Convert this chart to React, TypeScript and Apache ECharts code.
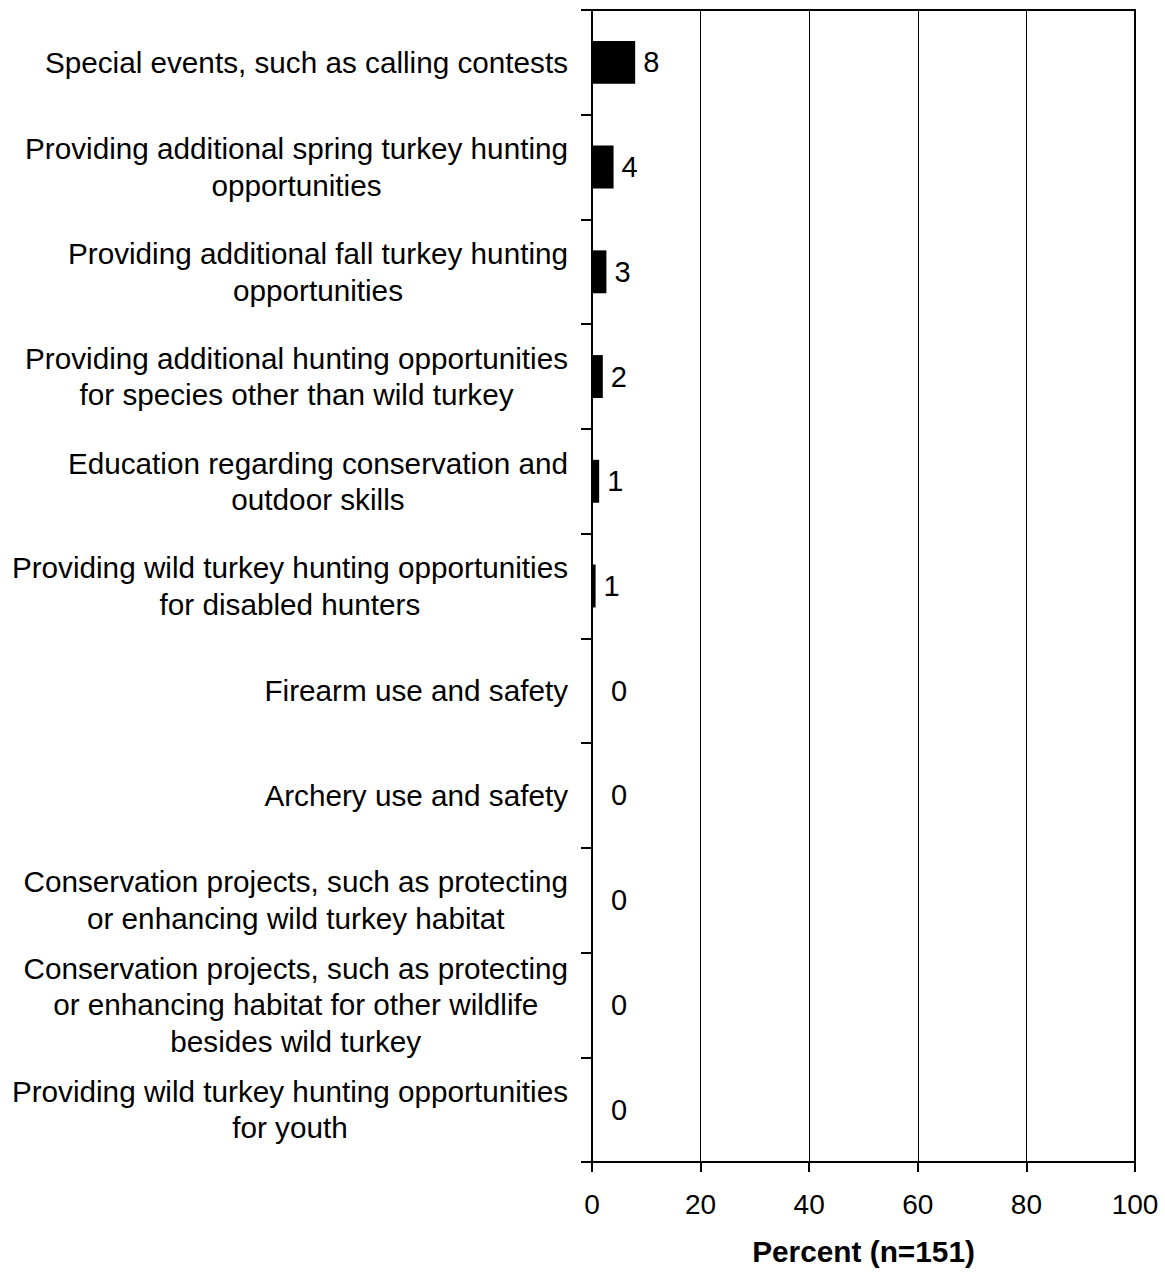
import React, { useEffect, useRef } from "react";
import * as echarts from "echarts";

const categories: string[] = [
  "Special events, such as calling contests",
  "Providing additional spring turkey hunting\nopportunities",
  "Providing additional fall turkey hunting\nopportunities",
  "Providing additional hunting opportunities\nfor species other than wild turkey",
  "Education regarding conservation and\noutdoor skills",
  "Providing wild turkey hunting opportunities\nfor disabled hunters",
  "Firearm use and safety",
  "Archery use and safety",
  "Conservation projects, such as protecting\nor enhancing wild turkey habitat",
  "Conservation projects, such as protecting\nor enhancing habitat for other wildlife\nbesides wild turkey",
  "Providing wild turkey hunting opportunities\nfor youth",
];

const percentValues: number[] = [7.95, 3.97, 2.65, 1.99, 1.32, 0.66, 0, 0, 0, 0, 0];
const percentLabels: string[] = ["8", "4", "3", "2", "1", "1", "0", "0", "0", "0", "0"];

const axisMin = 0;
const axisMax = 100;
const axisInterval = 20;
const axisTitle = "Percent (n=151)";

const FONT = "'Liberation Sans', Arial, Helvetica, sans-serif";

export default function App() {
  const ref = useRef<HTMLDivElement | null>(null);

  useEffect(() => {
    if (!ref.current) return;
    const chart = echarts.init(ref.current, undefined, { renderer: "svg" });
    const option: any = {
      animation: false,
      backgroundColor: "#ffffff",
      textStyle: { fontFamily: FONT },
      grid: {
        left: 592,
        right: 30,
        top: 10,
        bottom: 111,
        containLabel: false,
        show: true,
        borderColor: "#000",
        borderWidth: 2,
        backgroundColor: "transparent",
      },
      xAxis: {
        type: "value",
        min: axisMin,
        max: axisMax,
        interval: axisInterval,
        name: axisTitle,
        nameLocation: "middle",
        nameGap: 74,
        nameTextStyle: {
          fontFamily: FONT,
          fontSize: 29.8,
          fontWeight: "bold",
          color: "#000",
        },
        axisLine: { show: true, lineStyle: { color: "#000", width: 2 } },
        axisTick: { show: true, length: 10, lineStyle: { color: "#000", width: 2 } },
        axisLabel: {
          fontFamily: FONT,
          fontSize: 28,
          color: "#000",
          margin: 28,
        },
        splitLine: { show: true, lineStyle: { color: "#000", width: 1 } },
      },
      yAxis: {
        type: "category",
        inverse: true,
        data: categories,
        axisLine: { show: true, lineStyle: { color: "#000", width: 2 } },
        axisTick: { show: true, length: 11, lineStyle: { color: "#000", width: 2 } },
        splitLine: { show: false },
        axisLabel: {
          interval: 0,
          margin: 24,
          color: "#000",
          fontFamily: FONT,
          fontSize: 29.7,
          lineHeight: 36.5,
          formatter: (v: string) =>
            v
              .split("\n")
              .map((l) => `{c|${l}}`)
              .join("\n"),
          rich: {
            c: {
              align: "center",
              fontFamily: FONT,
              fontSize: 29.7,
              lineHeight: 36.5,
              color: "#000",
            },
          },
        },
      },
      series: [
        {
          type: "bar",
          barWidth: "41%",
          itemStyle: { color: "#000" },
          data: percentValues.map((v) => ({
            value: v,
            label: { distance: v === 0 ? 19 : 8 },
          })),
          label: {
            show: true,
            position: "right",
            color: "#000",
            fontFamily: FONT,
            fontSize: 29,
            formatter: (p: any) => percentLabels[p.dataIndex],
          },
        },
      ],
    };
    chart.setOption(option);
    return () => {
      chart.dispose();
    };
  }, []);

  return (
    <div
      ref={ref}
      style={{ position: "absolute", left: 0, top: 0, width: 1165, height: 1273 }}
    />
  );
}
